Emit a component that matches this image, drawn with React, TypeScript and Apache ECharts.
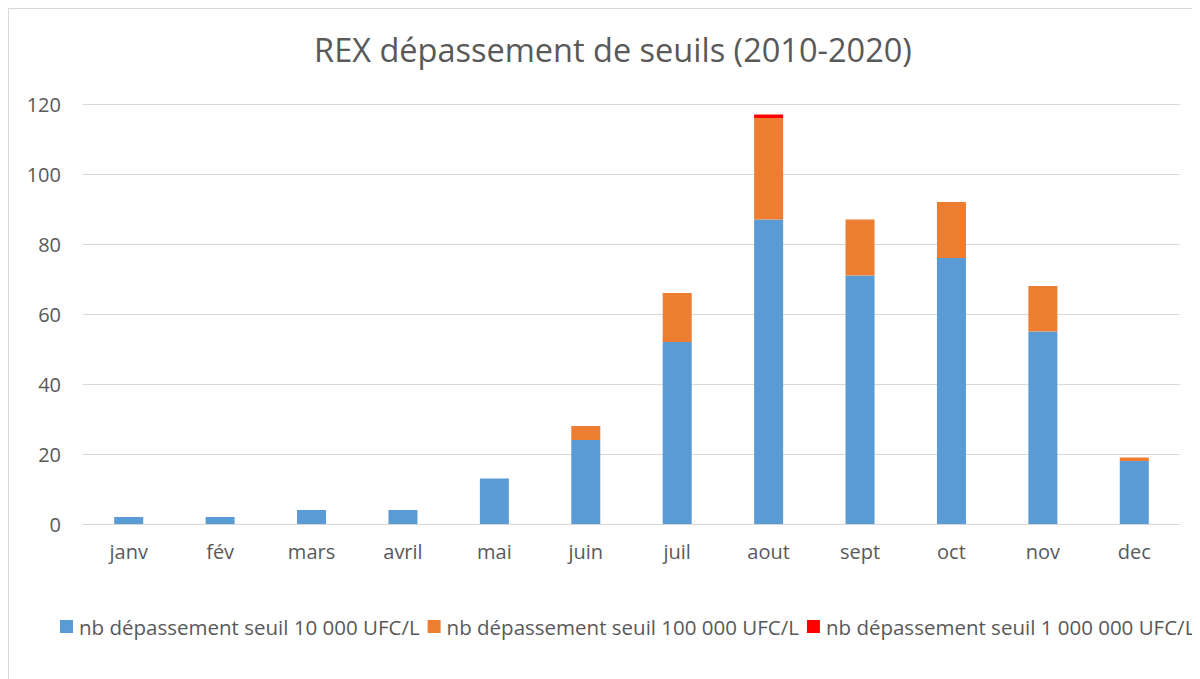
import React, { useEffect, useRef } from "react";
import * as echarts from "echarts";

const months = ["janv", "fév", "mars", "avril", "mai", "juin", "juil", "aout", "sept", "oct", "nov", "dec"];
const seuil10k = [2, 2, 4, 4, 13, 24, 52, 87, 71, 76, 55, 18];
const seuil100k = [0, 0, 0, 0, 0, 4, 14, 29, 16, 16, 13, 1];
const seuil1M = [0, 0, 0, 0, 0, 0, 0, 1, 0, 0, 0, 0];
const seriesNames = [
  "nb dépassement seuil 10 000 UFC/L",
  "nb dépassement seuil 100 000 UFC/L",
  "nb dépassement seuil 1 000 000 UFC/L",
];
const title = "REX dépassement de seuils (2010-2020)";

const FONT = "'Open Sans', 'Noto Sans', sans-serif";
const TXT = "#595959";

export default function App() {
  const ref = useRef<HTMLDivElement>(null);
  useEffect(() => {
    if (!ref.current) return;
    const chart = echarts.init(ref.current, null, { renderer: "svg" });
    const mk = (name: string, data: number[], color: string) => ({
      name,
      type: "bar",
      stack: "total",
      data,
      barWidth: 29,
      itemStyle: { color },
    });
    chart.setOption({
      animation: false,
      backgroundColor: "#fff",
      textStyle: { fontFamily: FONT },
      title: {
        text: title,
        left: 600,
        top: 20,
        textAlign: "center",
        textStyle: { fontFamily: FONT, fontSize: 32.5, fontWeight: "normal", color: TXT },
      },
      legend: {
        left: 47,
        top: 603,
        width: 2000,
        itemWidth: 13,
        itemHeight: 13,
        itemGap: 8,
        icon: "rect",
        textStyle: { fontFamily: FONT, fontSize: 20.5, color: TXT, padding: [0, 0, 0, 1] },
        data: seriesNames,
      },
      grid: { left: 75, right: 20, top: 96, bottom: 155, containLabel: false },
      xAxis: {
        type: "category",
        data: months,
        axisLine: { show: true, lineStyle: { color: "#D9D9D9", width: 1 } },
        axisTick: { show: false },
        axisLabel: { fontFamily: FONT, fontSize: 20, color: TXT, margin: 17 },
      },
      yAxis: {
        type: "value",
        min: 0,
        max: 120,
        interval: 20,
        axisLine: { show: false },
        axisTick: { show: false },
        splitLine: { lineStyle: { color: "#D9D9D9", width: 1 } },
        axisLabel: { fontFamily: FONT, fontSize: 20, color: TXT, margin: 22 },
      },
      graphic: [
        { type: "line", shape: { x1: 0.5, y1: 0, x2: 0.5, y2: 671 }, style: { stroke: "#D9D9D9", lineWidth: 1 } },
        { type: "line", shape: { x1: 0, y1: 0.5, x2: 1192, y2: 0.5 }, style: { stroke: "#D9D9D9", lineWidth: 1 } },
      ],
      series: [
        mk(seriesNames[0], seuil10k, "#5B9BD5"),
        mk(seriesNames[1], seuil100k, "#ED7D31"),
        mk(seriesNames[2], seuil1M, "#FF0000"),
      ],
    });
    return () => chart.dispose();
  }, []);
  return <div ref={ref} style={{ width: 1192, height: 671 }} />;
}
